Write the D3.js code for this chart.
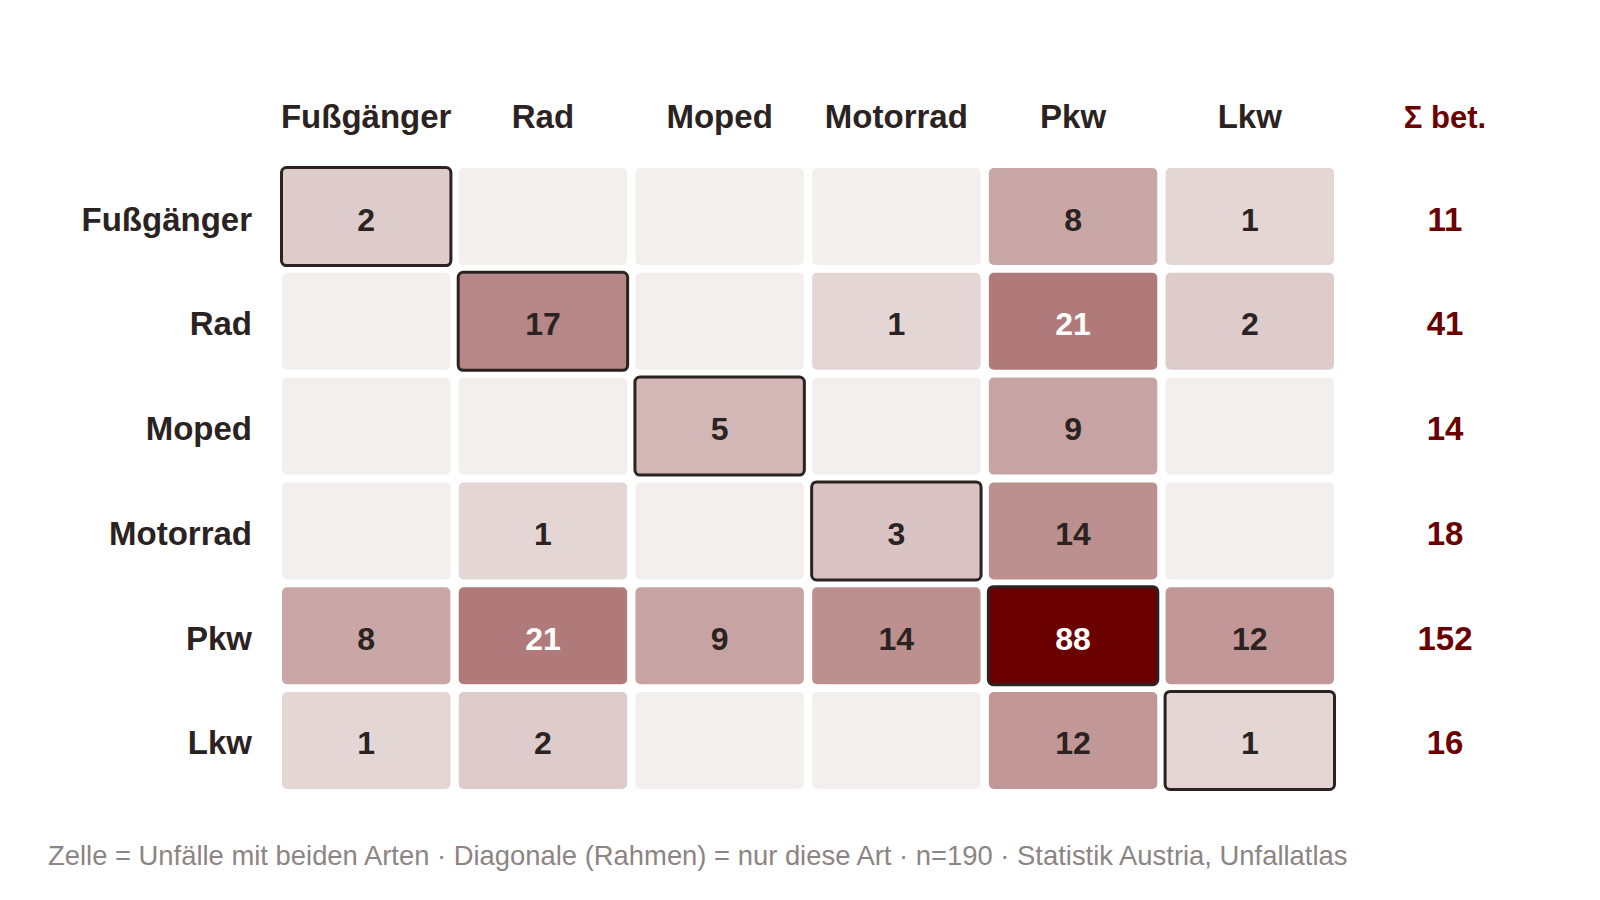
<!DOCTYPE html>
<html>
<head>
<meta charset="utf-8">
<script src="https://cdn.jsdelivr.net/npm/d3@7"></script>
<style>
  body { margin: 0; background: #fff; }
  text { font-family: "Liberation Sans", Arial, Helvetica, sans-serif; }
</style>
</head>
<body>
<script>
const width = 1600;
const height = 900;

// Verkehrsarten (Zeilen = Spalten)
const types = ['Fußgänger', 'Rad', 'Moped', 'Motorrad', 'Pkw', 'Lkw'];
const rowFuss     = [2, 0, 0, 0, 8, 1];
const rowRad      = [0, 17, 0, 1, 21, 2];
const rowMoped    = [0, 0, 5, 0, 9, 0];
const rowMotorrad = [0, 1, 0, 3, 14, 0];
const rowPkw      = [8, 21, 9, 14, 88, 12];
const rowLkw      = [1, 2, 0, 0, 12, 1];
const matrix = [rowFuss, rowRad, rowMoped, rowMotorrad, rowPkw, rowLkw];
const sumLabel = 'Σ bet.';
const footnote = 'Zelle = Unfälle mit beiden Arten · Diagonale (Rahmen) = nur diese Art · n=190 · Statistik Austria, Unfallatlas';

const dark = '#2a2321';
const red = '#6b0000';

const svg = d3.select('body')
    .append('svg')
    .attr('width', width)
    .attr('height', height);

const x = d3.scaleBand()
    .domain(types)
    .range([282, 1334])
    .paddingInner(0.047);
const y = d3.scaleBand()
    .domain(types)
    .range([168, 789])
    .paddingInner(0.074);

const maxValue = d3.max(matrix, r => d3.max(r));
const t = d3.scaleSqrt().domain([0, maxValue]).range([0, 1]);
const color = v => d3.interpolateRgb('#f3efef', red)(t(v));

const cells = [];
matrix.forEach((r, i) => r.forEach((v, j) => cells.push({row: types[i], col: types[j], value: v, diag: i === j})));

// column headers
svg.append('g').selectAll('text')
    .data(types)
    .enter().append('text')
    .attr('x', d => x(d) + x.bandwidth() / 2)
    .attr('y', 128)
    .attr('text-anchor', 'middle')
    .attr('font-size', 33)
    .attr('font-weight', 'bold')
    .attr('fill', dark)
    .text(d => d);

svg.append('text')
    .attr('x', 1445)
    .attr('y', 128)
    .attr('text-anchor', 'middle')
    .attr('font-size', 31)
    .attr('font-weight', 'bold')
    .attr('fill', red)
    .text(sumLabel);

// row headers
svg.append('g').selectAll('text')
    .data(types)
    .enter().append('text')
    .attr('x', 252)
    .attr('y', d => y(d) + y.bandwidth() / 2 + 14)
    .attr('text-anchor', 'end')
    .attr('font-size', 33)
    .attr('font-weight', 'bold')
    .attr('fill', dark)
    .text(d => d);

// cells
const cell_g = svg.append('g');
cell_g.selectAll('rect')
    .data(cells)
    .enter().append('rect')
    .attr('x', d => x(d.col) - (d.diag ? 0.5 : 0))
    .attr('y', d => y(d.row) - (d.diag ? 0.5 : 0))
    .attr('width', d => x.bandwidth() + (d.diag ? 1 : 0))
    .attr('height', d => y.bandwidth() + (d.diag ? 1 : 0))
    .attr('rx', 5)
    .attr('fill', d => color(d.value))
    .attr('stroke', d => d.diag ? dark : 'none')
    .attr('stroke-width', 3);

cell_g.selectAll('text')
    .data(cells.filter(d => d.value > 0))
    .enter().append('text')
    .attr('x', d => x(d.col) + x.bandwidth() / 2)
    .attr('y', d => y(d.row) + y.bandwidth() / 2 + 14)
    .attr('text-anchor', 'middle')
    .attr('font-size', 32)
    .attr('font-weight', 'bold')
    .attr('fill', d => t(d.value) > 0.45 ? '#ffffff' : dark)
    .text(d => d.value);

// row sums
svg.append('g').selectAll('text')
    .data(types)
    .enter().append('text')
    .attr('x', 1445)
    .attr('y', d => y(d) + y.bandwidth() / 2 + 14)
    .attr('text-anchor', 'middle')
    .attr('font-size', 33)
    .attr('font-weight', 'bold')
    .attr('fill', red)
    .text((d, i) => d3.sum(matrix[i]));

svg.append('text')
    .attr('x', 48)
    .attr('y', 865)
    .attr('font-size', 27.4)
    .attr('fill', '#8c8584')
    .text(footnote);
</script>
</body>
</html>
